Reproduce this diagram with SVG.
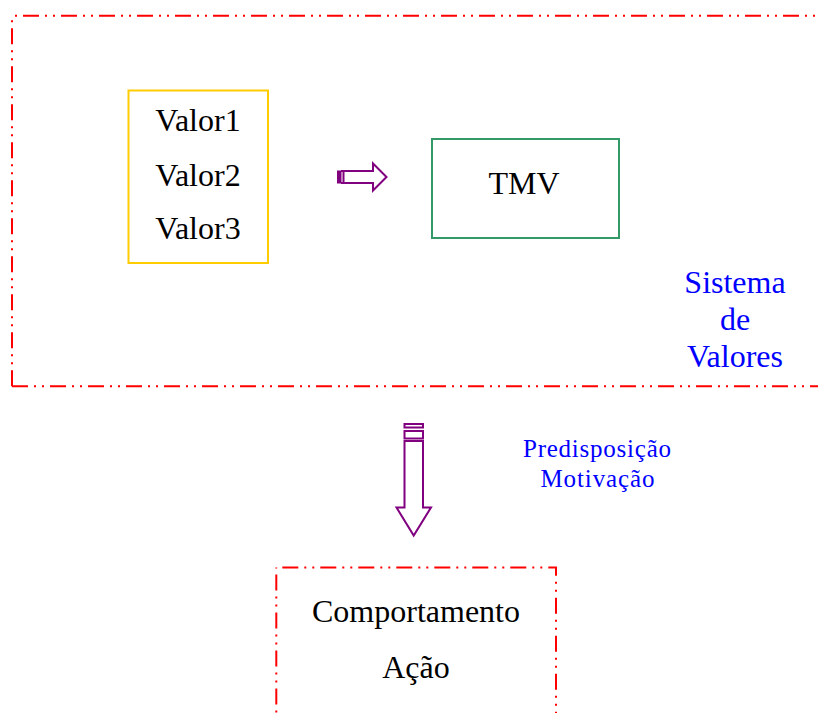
<svg xmlns="http://www.w3.org/2000/svg" width="818" height="713" viewBox="0 0 818 713">
  <style>
    .frame { fill: none; stroke: #FF0000; stroke-width: 2; stroke-dasharray: 16 6 2 6 2 6; }
    .label { font-family: "Liberation Serif", "Times New Roman", serif; font-size: 32px; text-anchor: middle; fill: #000000; }
    .blue { fill: #0000FF; }
    .small { font-size: 25px; }
    .arrow { fill: #FFFFFF; stroke: #800080; stroke-width: 2; }
  </style>

  <!-- Value system frame (right edge runs past the page) -->
  <g id="sistema-de-valores">
    <line class="frame" x1="12" y1="15.7" x2="840" y2="15.7" stroke-dashoffset="27"/>
    <line class="frame" x1="12" y1="386.3" x2="12" y2="15.7"/>
    <line class="frame" x1="12" y1="386.3" x2="840" y2="386.3"/>
    <text class="label blue" x="735" y="293">Sistema</text>
    <text class="label blue" x="735" y="330">de</text>
    <text class="label blue" x="735" y="367">Valores</text>
  </g>

  <!-- Values box -->
  <g id="valores">
    <rect x="128.5" y="90.5" width="139.5" height="172.5" fill="none" stroke="#FFCC00" stroke-width="2"/>
    <text class="label" x="198" y="131">Valor1</text>
    <text class="label" x="198" y="185.5">Valor2</text>
    <text class="label" x="198" y="239">Valor3</text>
  </g>

  <!-- TMV box -->
  <g id="tmv">
    <rect x="432" y="139" width="187" height="99" fill="none" stroke="#339966" stroke-width="2"/>
    <text class="label" x="524" y="194">TMV</text>
  </g>

  <!-- Behaviour / action box (bottom edge runs past the page) -->
  <g id="comportamento">
    <path class="frame" d="M276.3,567.5 H556 V730" stroke-dashoffset="32"/>
    <line class="frame" x1="276.3" y1="567.5" x2="276.3" y2="730" stroke-dashoffset="31"/>
    <text class="label" x="416" y="622">Comportamento</text>
    <text class="label" x="416" y="678">Ação</text>
  </g>

  <!-- Connectors -->
  <g id="connectors">
    <!-- striped right arrow: values to TMV -->
    <g id="arrow-right">
      <rect x="337.5" y="171" width="3.5" height="12" fill="#800080" stroke="#800080" stroke-width="1"/>
      <path class="arrow" d="M343.5,171 H373 V163.5 L386.5,177 L373,190.5 V183 H343.5 Z"/>
      <path d="M341,171 H343.5 M341,183 H343.5" stroke="#800080" stroke-width="2" fill="none"/>
    </g>
    <!-- striped down arrow: value system to behaviour -->
    <g id="arrow-down">
      <rect class="arrow" x="404.5" y="424" width="18.5" height="3.5"/>
      <rect class="arrow" x="404.5" y="431" width="18.5" height="7.5"/>
      <path class="arrow" d="M404.5,441 V507.5 H396.5 L413.7,535.5 L431,507.5 H423 V441 Z"/>
    </g>
    <text class="label blue small" x="597" y="457" textLength="148" lengthAdjust="spacing">Predisposição</text>
    <text class="label blue small" x="597.5" y="487" textLength="114" lengthAdjust="spacing">Motivação</text>
  </g>
</svg>
